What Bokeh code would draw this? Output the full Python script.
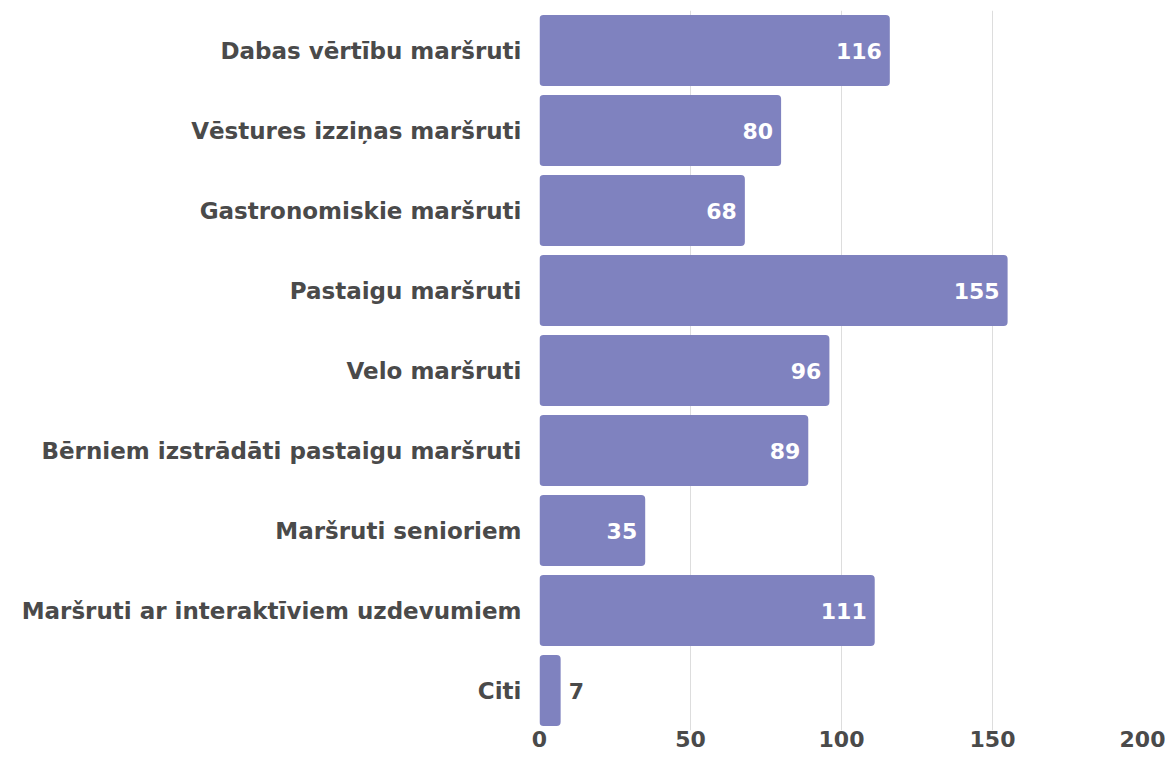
from bokeh.plotting import figure
from bokeh.models import ColumnDataSource, LabelSet, Range1d, FixedTicker
from bokeh.embed import file_html
from bokeh.resources import INLINE
from bokeh.core.properties import value

categories = [
    "Dabas vērtību maršruti",
    "Vēstures izziņas maršruti",
    "Gastronomiskie maršruti",
    "Pastaigu maršruti",
    "Velo maršruti",
    "Bērniem izstrādāti pastaigu maršruti",
    "Maršruti senioriem",
    "Maršruti ar interaktīviem uzdevumiem",
    "Citi",
]
values = [116, 80, 68, 155, 96, 89, 35, 111, 7]
x_ticks = [0, 50, 100, 150, 200]

FONT = "DejaVu Sans"
BAR = "#7f82bf"
TXT = "#4a4a4a"

inside = [v >= 20 for v in values]
src_in = ColumnDataSource(dict(
    cat=[c for c, f in zip(categories, inside) if f],
    val=[v for v, f in zip(values, inside) if f],
    txt=[str(v) for v, f in zip(values, inside) if f],
))
src_out = ColumnDataSource(dict(
    cat=[c for c, f in zip(categories, inside) if not f],
    val=[v for v, f in zip(values, inside) if not f],
    txt=[str(v) for v, f in zip(values, inside) if not f],
))
src = ColumnDataSource(dict(cat=categories, val=values))

p = figure(
    y_range=list(reversed(categories)),
    x_range=Range1d(0, 200),
    width=1165, height=750,
    output_backend="svg", toolbar_location=None,
    min_border_left=539, min_border_right=22,
    min_border_top=10, min_border_bottom=20,
)
p.background_fill_color = "white"
p.border_fill_color = "white"
p.outline_line_color = None

p.hbar(y="cat", right="val", left=0, height=0.89, source=src,
       fill_color=BAR, line_color=None, border_radius=4)

p.add_layout(LabelSet(x="val", y="cat", text="txt", source=src_in,
                      x_offset=-8, text_align="right", text_baseline="middle",
                      text_color="white", text_font=value(FONT),
                      text_font_style="bold", text_font_size="22px"))
p.add_layout(LabelSet(x="val", y="cat", text="txt", source=src_out,
                      x_offset=8, text_align="left", text_baseline="middle",
                      text_color=TXT, text_font=value(FONT),
                      text_font_style="bold", text_font_size="22px"))

p.xaxis.ticker = FixedTicker(ticks=x_ticks)
p.xaxis.axis_line_color = None
p.xaxis.major_tick_line_color = None
p.xaxis.minor_tick_line_color = None
p.xaxis.major_tick_out = 0
p.xaxis.major_tick_in = 0
p.xaxis.major_label_standoff = 0
p.xaxis.major_label_text_font = FONT
p.xaxis.major_label_text_font_style = "bold"
p.xaxis.major_label_text_font_size = "22px"
p.xaxis.major_label_text_color = TXT

p.yaxis.axis_line_color = None
p.yaxis.major_tick_line_color = None
p.yaxis.minor_tick_line_color = None
p.yaxis.major_tick_out = 0
p.yaxis.major_tick_in = 0
p.yaxis.major_label_standoff = 18
p.yaxis.major_label_text_font = FONT
p.yaxis.major_label_text_font_style = "bold"
p.yaxis.major_label_text_font_size = "23px"
p.yaxis.major_label_text_color = TXT

p.xgrid.grid_line_color = "#dddddd"
p.xgrid.grid_line_width = 1
p.ygrid.grid_line_color = None

open("out.html", "w").write(file_html(p, INLINE))
